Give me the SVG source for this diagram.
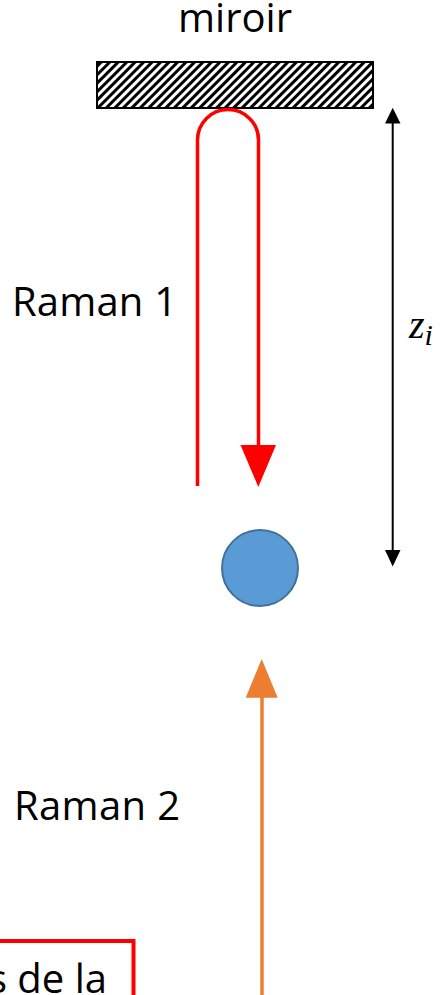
<svg xmlns="http://www.w3.org/2000/svg" width="446" height="995" viewBox="0 0 446 995">
  <style>
    .lbl { font-family: "Open Sans", "Liberation Sans", sans-serif; font-size: 40px; fill: #000; }
    .math { font-family: "Liberation Serif", "DejaVu Serif", serif; font-style: italic; fill: #000; }
  </style>
  <defs>
    <pattern id="hatch" patternUnits="userSpaceOnUse" width="6" height="6" patternTransform="rotate(45)">
      <rect x="0" y="0" width="6" height="6" fill="#fff"/>
      <rect x="0" y="0" width="3" height="6" fill="#000"/>
    </pattern>
  </defs>
  <rect width="446" height="995" fill="#fff"/>

  <g id="mirror">
    <rect x="97" y="62" width="276" height="46" fill="url(#hatch)" stroke="#000" stroke-width="2"/>
    <text class="lbl" x="235" y="32" text-anchor="middle">miroir</text>
  </g>

  <g id="atom">
    <circle cx="260" cy="568" r="38" fill="#5b9bd5" stroke="#41719c" stroke-width="2"/>
  </g>

  <g id="label-raman1">
    <text class="lbl" x="12" y="316" textLength="165">Raman 1</text>
  </g>
  <g id="label-raman2">
    <text class="lbl" x="14" y="820" textLength="166">Raman 2</text>
  </g>
  <g id="label-zi">
    <text class="math" x="409" y="338" font-size="40">z<tspan font-size="30" dy="7">i</tspan></text>
  </g>

  <g id="box">
    <rect x="-10" y="941" width="143.5" height="80" fill="none" stroke="#ff0000" stroke-width="4"/>
    <text class="lbl" x="107" y="993" text-anchor="end">s de la</text>
  </g>

  <g id="connectors">
    <path d="M197.5 486 V140 A30.5 30.5 0 0 1 258.5 140 V447" fill="none" stroke="#ff0000" stroke-width="3.5"/>
    <polygon points="240.5,445 276,445 258.3,487" fill="#ff0000"/>

    <line x1="262" y1="995" x2="262" y2="695" stroke="#ed7d31" stroke-width="3.5"/>
    <polygon points="245.7,697.7 277.7,697.7 261.7,659" fill="#ed7d31"/>

    <line x1="392.7" y1="120" x2="392.7" y2="553" stroke="#000" stroke-width="2"/>
    <polygon points="385,123.5 400.5,123.5 392.7,107.7" fill="#000"/>
    <polygon points="385,550 400.5,550 392.7,566.5" fill="#000"/>
  </g>
</svg>
